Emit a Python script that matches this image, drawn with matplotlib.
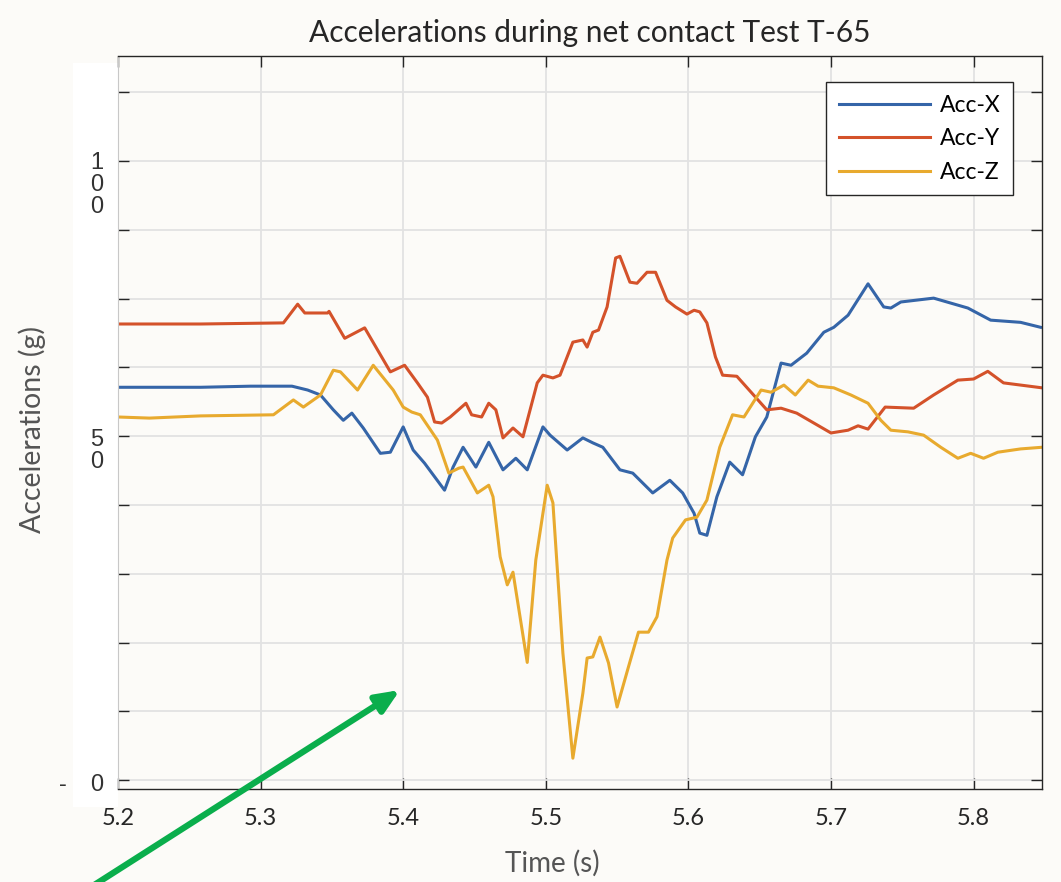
import matplotlib
matplotlib.use("Agg")
import matplotlib.pyplot as plt
from matplotlib.patches import Rectangle

# Acc-Y (red)
t_y = [5.200, 5.258, 5.316, 5.326, 5.331, 5.347, 5.348, 5.359, 5.373, 5.391,
       5.401, 5.410, 5.417, 5.422, 5.427, 5.433, 5.444, 5.448, 5.455, 5.460,
       5.465, 5.470, 5.477, 5.484, 5.494, 5.498, 5.505, 5.510, 5.519, 5.526,
       5.529, 5.533, 5.537, 5.543, 5.549, 5.552, 5.559, 5.564, 5.571, 5.577,
       5.585, 5.591, 5.599, 5.604, 5.608, 5.613, 5.619, 5.624, 5.634, 5.644,
       5.655, 5.665, 5.676, 5.688, 5.700, 5.712, 5.719, 5.726, 5.738, 5.758,
       5.772, 5.789, 5.800, 5.810, 5.821, 5.833, 5.848]
acc_y = [70.4, 70.4, 70.6, 74.0, 72.4, 72.4, 72.7, 67.8, 69.7, 61.7,
         62.9, 59.7, 57.1, 52.6, 52.4, 53.5, 56.0, 53.9, 53.5, 56.0,
         54.8, 49.7, 51.5, 49.9, 59.7, 61.1, 60.6, 61.1, 67.1, 67.5,
         66.2, 68.9, 69.3, 73.5, 82.4, 82.7, 78.0, 77.8, 79.8, 79.8,
         74.7, 73.5, 72.2, 72.9, 72.6, 70.6, 64.4, 61.1, 60.9, 58.0,
         54.8, 55.1, 54.2, 52.4, 50.6, 51.1, 51.9, 51.3, 55.3, 55.1,
         57.5, 60.2, 60.4, 61.8, 59.7, 59.3, 58.8]

# Acc-X (blue)
t_x = [5.200, 5.258, 5.293, 5.322, 5.333, 5.342, 5.351, 5.358, 5.364, 5.372,
       5.384, 5.391, 5.400, 5.407, 5.415, 5.429, 5.435, 5.442, 5.451, 5.460,
       5.470, 5.479, 5.487, 5.498, 5.503, 5.515, 5.526, 5.533, 5.540, 5.552,
       5.561, 5.575, 5.587, 5.596, 5.604, 5.608, 5.613, 5.620, 5.629, 5.638,
       5.647, 5.655, 5.665, 5.672, 5.683, 5.695, 5.702, 5.712, 5.726, 5.737,
       5.742, 5.749, 5.772, 5.796, 5.812, 5.833, 5.847]
acc_x = [58.9, 58.9, 59.1, 59.1, 58.4, 57.5, 54.8, 52.9, 54.2, 51.5,
         46.9, 47.1, 51.7, 47.5, 45.1, 40.2, 44.4, 48.0, 44.4, 48.9,
         43.9, 46.0, 43.9, 51.7, 50.2, 47.5, 49.7, 48.8, 48.0, 43.9,
         43.3, 39.7, 42.0, 39.7, 36.0, 32.4, 32.0, 39.0, 45.3, 43.0,
         49.9, 53.5, 63.3, 62.9, 65.1, 68.9, 69.8, 72.0, 77.7, 73.5,
         73.3, 74.4, 75.1, 73.3, 71.1, 70.7, 69.8]

# Acc-Z (yellow)
t_z = [5.200, 5.222, 5.258, 5.309, 5.323, 5.330, 5.342, 5.351, 5.356, 5.368,
       5.379, 5.393, 5.400, 5.406, 5.412, 5.424, 5.432, 5.439, 5.442, 5.452,
       5.460, 5.463, 5.468, 5.473, 5.477, 5.487, 5.493, 5.501, 5.505, 5.512,
       5.519, 5.526, 5.529, 5.533, 5.538, 5.544, 5.550, 5.558, 5.565, 5.572,
       5.578, 5.585, 5.589, 5.598, 5.606, 5.613, 5.622, 5.631, 5.639, 5.651,
       5.658, 5.667, 5.675, 5.684, 5.691, 5.702, 5.714, 5.726, 5.735, 5.742,
       5.754, 5.765, 5.777, 5.789, 5.798, 5.807, 5.817, 5.833, 5.848]
acc_z = [53.5, 53.3, 53.7, 53.9, 56.6, 55.3, 57.5, 62.0, 61.7, 58.4,
         62.9, 58.4, 55.3, 54.4, 53.9, 49.3, 43.3, 44.2, 44.4, 39.7,
         41.1, 39.0, 28.1, 23.0, 25.3, 8.9, 27.5, 41.1, 37.9, 10.6,
         -8.5, 3.3, 9.7, 9.9, 13.5, 8.8, 0.8, 8.1, 14.4, 14.4,
         17.2, 27.5, 31.5, 34.8, 35.3, 38.4, 48.0, 53.9, 53.5, 58.4,
         58.0, 59.3, 57.5, 60.2, 59.1, 58.8, 57.5, 56.0, 52.9, 51.1,
         50.8, 50.2, 48.0, 46.0, 46.9, 46.0, 47.1, 47.7, 48.0]

x_ticks = [5.2, 5.3, 5.4, 5.5, 5.6, 5.7, 5.8]
y_ticks = [-12.5, 0, 12.5, 25, 37.5, 50, 62.5, 75, 87.5, 100, 112.5]

BG = "#fcfbf8"
TXT = "#262626"
plt.rcParams["font.family"] = ["Lato", "DejaVu Sans"]

fig = plt.figure(figsize=(10.61, 8.82), dpi=100, facecolor=BG)
ax = fig.add_axes([118 / 1061, 1 - 789 / 882, 924 / 1061, 733 / 882], facecolor=BG)

ax.plot(t_x, acc_x, color="#3565a8", lw=2.2, label="Acc-X")
ax.plot(t_y, acc_y, color="#d4522a", lw=2.2, label="Acc-Y")
ax.plot(t_z, acc_z, color="#e8aa2e", lw=2.2, label="Acc-Z")

ax.set_xlim(5.2, 5.848)
ax.set_ylim(-14.1, 119.1)
ax.set_xticks(x_ticks)
ax.set_xticklabels([f"{v:.1f}" for v in x_ticks])
ax.set_yticks(y_ticks)
ax.set_yticklabels([])
ax.grid(True, color="#e2e2e2", lw=1.3)
ax.set_axisbelow(True)
ax.tick_params(direction="in", length=8, width=1.0, colors=TXT,
               top=True, right=True, labelsize=17, pad=14)
for side in ("top", "right", "bottom"):
    ax.spines[side].set_color(TXT)
    ax.spines[side].set_linewidth(1.0)
ax.spines["left"].set_color("#c8c8c8")

ax.set_title("Accelerations during net contact Test T-65", fontsize=21.5,
             color=TXT, x=0.511, pad=10)
ax.set_xlabel("Time (s)", fontsize=20, color="#555555")
ax.xaxis.set_label_coords(0.47, -0.083)
ax.set_ylabel("Accelerations (g)", fontsize=20.5, color="#555555")
ax.yaxis.set_label_coords(-0.078, 0.49)

leg = ax.legend(loc="upper right", bbox_to_anchor=(0.9686, 0.9645),
                borderaxespad=0, fancybox=False, fontsize=16.5,
                handlelength=4.0, handletextpad=0.4, labelspacing=0.55,
                borderpad=0.55)
leg.get_frame().set_edgecolor(TXT)
leg.get_frame().set_linewidth(1.0)
leg.get_frame().set_facecolor("white")
leg.get_frame().set_alpha(1)

# white patch over the left tick labels, with hand-placed labels
fig.add_artist(Rectangle((73 / 1061, 1 - 807 / 882), 45 / 1061, 744 / 882,
                         transform=fig.transFigure, facecolor="white",
                         edgecolor="none", zorder=-1))
lab = dict(transform=fig.transFigure, fontsize=17, color="#333333",
           family="Liberation Sans", ha="center", va="center", linespacing=1.0)
fig.text(97 / 1061, 1 - 185 / 882, "1\n0\n0", **lab)
fig.text(97 / 1061, 1 - 451 / 882, "5\n0", **lab)
fig.text(97 / 1061, 1 - 785 / 882, "0", **lab)
fig.text(63 / 1061, 1 - 785 / 882, "-", **lab)

# green arrow
ax.annotate("", xy=(400 / 1061, 1 - 690 / 882), xytext=(92 / 1061, -0.005),
            xycoords="figure fraction", textcoords="figure fraction",
            arrowprops=dict(arrowstyle="-|>,head_length=1.4,head_width=0.6",
                            color="#0aae4c", lw=4.5, shrinkA=0, shrinkB=0),
            annotation_clip=False)

fig.savefig("out.png", dpi=100, facecolor=BG)
